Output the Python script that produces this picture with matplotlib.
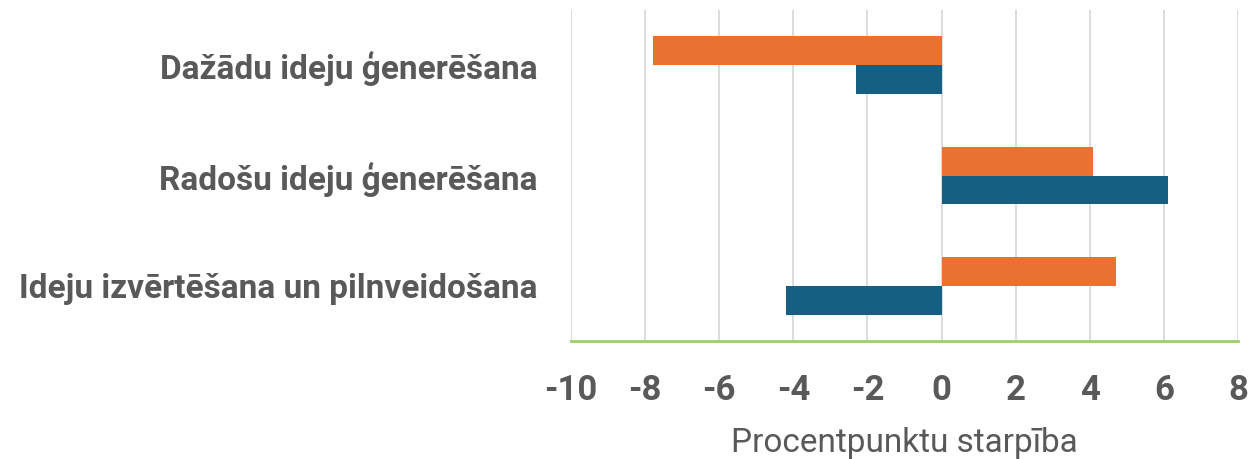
import numpy as np
import matplotlib.pyplot as plt

categories = ['Dažādu ideju ģenerēšana', 'Radošu ideju ģenerēšana', 'Ideju izvērtēšana un pilnveidošana']
orange_vals = [-7.8, 4.1, 4.7]
blue_vals = [-2.3, 6.1, -4.2]
x_ticks = [-10, -8, -6, -4, -2, 0, 2, 4, 6, 8]

plt.rcParams['font.family'] = ['Roboto', 'DejaVu Sans']

fig = plt.figure(figsize=(12.51, 4.59), dpi=100)
ax = fig.add_axes([571 / 1251, 1 - 341 / 459, (1238 - 571) / 1251, (341 - 10) / 459])

y = np.arange(len(categories))
h = 0.26
ax.barh(y - h / 2, orange_vals, height=h, color='#E97132', zorder=3)
ax.barh(y + h / 2, blue_vals, height=h, color='#156082', zorder=3)

ax.set_xlim(-10, 8)
ax.set_ylim(2.5, -0.5)
ax.set_xticks(x_ticks)
ax.set_xticklabels([str(t) for t in x_ticks], fontsize=25, fontweight='bold', color='#595959')
ax.set_yticks(y)
ax.set_yticklabels(categories, fontsize=24, fontweight='bold', color='#595959')
ax.tick_params(axis='both', length=0)
ax.tick_params(axis='x', pad=24)
ax.tick_params(axis='y', pad=24)

ax.grid(axis='x', color='#D9D9D9', linewidth=1.3, zorder=0)
for s in ['top', 'right', 'left']:
    ax.spines[s].set_visible(False)
ax.spines['bottom'].set_color('#9BD16B')
ax.spines['bottom'].set_linewidth(2)

ax.set_xlabel('Procentpunktu starpība', fontsize=24, color='#595959', labelpad=14)

fig.savefig('out.png', dpi=100)
